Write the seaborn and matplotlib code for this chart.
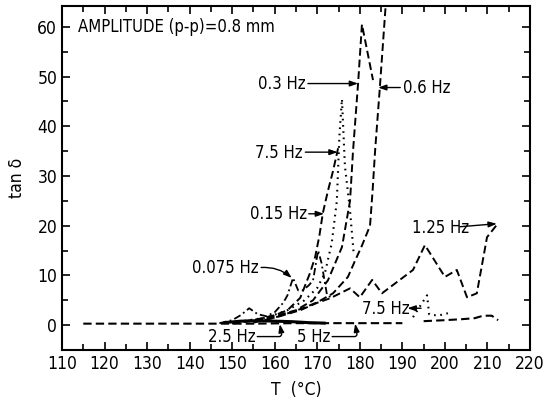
import matplotlib
matplotlib.use("Agg")
import matplotlib.pyplot as plt
import seaborn as sns
import numpy as np
import pandas as pd

# ---- data ----
T_5hz_a = [115, 125, 135, 145, 155, 165, 175, 185, 190]
V_5hz_a = [0.3, 0.3, 0.3, 0.3, 0.3, 0.4, 0.4, 0.4, 0.4]
T_5hz_b = [195, 200, 204, 207, 209, 211, 212.5]
V_5hz_b = [0.8, 1.0, 1.2, 1.4, 1.9, 1.9, 1.0]

T_25hz = [148, 152, 156, 160, 164, 168, 172]
V_25hz = [0.5, 0.8, 0.9, 0.8, 0.7, 0.5, 0.4]

T_0075 = [147, 150, 152, 154, 156, 158, 160, 162, 163, 164.3, 165.5, 166.6, 168, 169, 170.2, 171, 172.3, 173.5]
V_0075 = [0.4, 1.0, 2.0, 3.4, 2.2, 1.8, 2.6, 4.5, 6.0, 9.5, 7.0, 7.0, 8.0, 9.0, 15.0, 12.5, 6.0, 5.5]

T_015 = [150, 155, 160, 163, 166, 168.3, 169.5, 170.5, 171.3, 172.5, 173.7, 175]
V_015 = [0.5, 1.0, 2.0, 3.0, 5.5, 10.5, 13.7, 18, 22.5, 27, 31, 36]

T_75up = [150, 158, 163, 167, 170, 171.8, 173.4, 174.6, 175.2, 175.8, 176.5, 177.7, 178.6]
V_75up = [0.5, 1.5, 3.0, 5.0, 7.5, 10.5, 16.5, 25, 38, 45.5, 32, 23, 14]

T_03 = [150, 155, 160, 165, 169, 172.5, 175.8, 177.7, 178.4, 179.6, 180.5, 183.1]
V_03 = [0.4, 1.0, 1.8, 3.0, 5.0, 9.0, 15.7, 25, 35, 48.7, 60.5, 49.3]

T_06 = [155, 160, 166.6, 170, 173.7, 177.2, 178.9, 180.5, 182.4, 183.0, 183.6, 184.7, 186.0, 186.3]
V_06 = [0.5, 1.5, 3.4, 4.6, 6.4, 9.7, 13, 16, 20, 27, 35.2, 47.7, 63.4, 67]

T_125 = [150, 160, 166, 170, 173, 177.7, 180, 182.9, 185.2, 192.5, 195.3, 200, 202.8, 205.2, 207.5, 209.9, 212.5]
V_125 = [0.3, 1.5, 3.0, 4.5, 5.4, 7.4, 5.6, 9.1, 6.4, 11.1, 16.1, 9.7, 11.1, 5.6, 6.4, 17.7, 20.5]

T_75lo = [192.5, 195.8, 196.3, 197.2, 198.8, 200.7]
V_75lo = [1.6, 6.0, 2.2, 2.0, 2.0, 2.4]

x_ticks = list(range(110, 221, 10))
y_ticks = list(range(0, 61, 10))

# ---- styling ----
sns.set_theme(style="ticks")
plt.rcParams["font.family"] = ["DejaVu Sans"]
plt.rcParams["font.stretch"] = "condensed"
plt.rcParams["axes.linewidth"] = 1.5
plt.rcParams["text.color"] = "black"
plt.rcParams["axes.labelcolor"] = "black"
plt.rcParams["xtick.color"] = "black"
plt.rcParams["ytick.color"] = "black"
plt.rcParams["xtick.labelcolor"] = "black"
plt.rcParams["ytick.labelcolor"] = "black"

fig = plt.figure(figsize=(5.46, 4.07), dpi=100)
ax = fig.add_axes([62/546, 1-350/407, (530-62)/546, (350-6)/407])

DASH = (0, (4, 2))
DOT = (0, (0.8, 2.2))
DASHDOT = (0, (4, 1.8, 1, 1.8))

def draw(T, V, ls, lw=1.4):
    sns.lineplot(x=T, y=V, ax=ax, color="black", linestyle=ls, linewidth=lw,
                 errorbar=None, sort=False, solid_capstyle="butt",
                 dash_capstyle="butt")

draw(T_5hz_a, V_5hz_a, DASH, 1.5)
draw(T_5hz_b, V_5hz_b, DASH, 1.5)
draw(T_25hz, V_25hz, "-", 2.2)
draw(T_0075, V_0075, DASHDOT, 1.3)
draw(T_015, V_015, DASH)
draw(T_75up, V_75up, DOT, 1.5)
draw(T_03, V_03, DASH)
draw(T_06, V_06, DASH)
draw(T_125, V_125, DASH)
draw(T_75lo, V_75lo, DOT, 1.5)

ax.set_xlim(110, 220)
ax.set_ylim(-5, 64.2)
ax.set_xticks(x_ticks)
ax.set_yticks(y_ticks)
ax.set_xticks(list(range(115, 220, 10)), minor=True)
ax.set_yticks(list(range(-5, 64, 10)), minor=True)
ax.tick_params(which="both", direction="in", top=True, right=True, colors="black",
               labelcolor="black", labelsize=12.5, width=1.2)
ax.tick_params(which="major", length=6)
ax.tick_params(which="minor", length=4)
for s in ax.spines.values():
    s.set_color("black")
    s.set_linewidth(1.5)

ax.set_xlabel("T  (°C)", fontsize=12.5, labelpad=6, color="black")
ax.set_ylabel("tan δ", fontsize=12.5, labelpad=8, color="black")

fs = 12
ax.text(113.8, 60, "AMPLITUDE (p-p)=0.8 mm", fontsize=fs, ha="left", va="center",
        color="black")

arrow = dict(arrowstyle="-|>,head_length=0.4,head_width=0.14", color="black", lw=1.0,
             shrinkA=0, shrinkB=0)

def label(x, y, s, ha):
    ax.text(x, y, s, fontsize=fs, ha=ha, va="center", color="black")

def arr(x0, y0, x1, y1, conn="arc3,rad=0"):
    a = dict(arrow)
    a["connectionstyle"] = conn
    ax.annotate("", xy=(x1, y1), xytext=(x0, y0), arrowprops=a)

label(167.3, 48.5, "0.3 Hz", "right")
arr(167.8, 48.6, 179.6, 48.6)

label(190.2, 47.8, "0.6 Hz", "left")
arr(189.5, 47.8, 184.3, 47.8)

label(166.6, 34.6, "7.5 Hz", "right")
arr(167.2, 34.8, 174.8, 34.8)

label(167.6, 22.3, "0.15 Hz", "right")
arr(168.0, 22.4, 171.6, 22.4)

label(156.1, 11.5, "0.075 Hz", "right")
arr(156.8, 11.6, 164.0, 9.5, "arc3,rad=-0.2")

label(155.4, -2.4, "2.5 Hz", "right")
arr(155.9, -2.3, 161.2, 0.2, "angle,angleA=0,angleB=-80,rad=3")

label(173.0, -2.4, "5 Hz", "right")
arr(173.5, -2.3, 178.9, 0.3, "angle,angleA=0,angleB=-80,rad=3")

label(192.3, 19.6, "1.25 Hz", "left")
arr(203.6, 19.8, 212.2, 20.4)

label(180.5, 3.2, "7.5 Hz", "left")
arr(194.4, 3.4, 191.2, 3.4)

fig.savefig("out.png", dpi=100)
